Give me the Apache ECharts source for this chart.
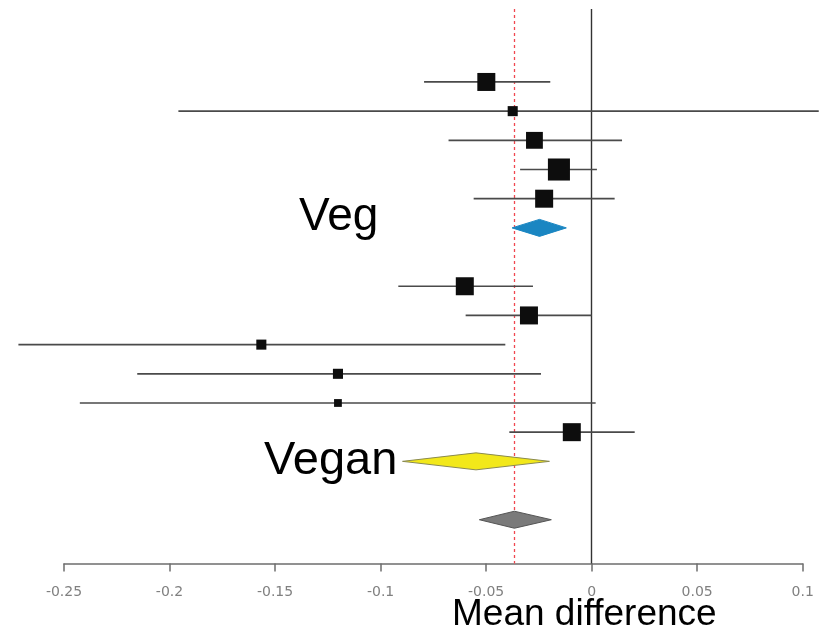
<!DOCTYPE html>
<html>
<head>
<meta charset="utf-8">
<script src="https://cdn.jsdelivr.net/npm/echarts@6/dist/echarts.min.js"></script>
<style>
  html, body { margin: 0; padding: 0; background: #fff; }
  #chart { width: 833px; height: 632px; }
</style>
</head>
<body>
<div id="chart"></div>
<script>
// Study rows (row index counted from the top of the plot)
const studyRows    = [1, 2, 3, 4, 5, 8, 9, 10, 11, 12, 13];
const studyEst     = [-0.0499, -0.0374, -0.0271, -0.0155, -0.0225, -0.0601, -0.0297, -0.1565, -0.1202, -0.1202, -0.0094];
const studyLower   = [-0.0794, -0.1958, -0.0678, -0.0339, -0.0559, -0.0916, -0.0597, -0.2716, -0.2153, -0.2425, -0.0390];
const studyUpper   = [-0.0196,  0.1076,  0.0144,  0.0025,  0.0109, -0.0278,  0.0000, -0.0409, -0.0240,  0.0019,  0.0204];
const studyWeights = [16, 5, 14, 24, 16, 16, 16, 5, 5, 3, 16];

// Pooled estimates: Veg subgroup, Vegan subgroup, overall
const pooledNames = ['Veg', 'Vegan', 'Overall'];
const pooledRows  = [6, 14, 16];
const pooledEst   = [-0.0247, -0.0548, -0.0366];
const pooledLower = [-0.0377, -0.0896, -0.0532];
const pooledUpper = [-0.0120, -0.0200, -0.0191];

// Axis ticks
const xTicks = [-0.25, -0.2, -0.15, -0.1, -0.05, 0, 0.05, 0.1];

const diamondFill   = ['#1a86c2', '#f2e81a', '#7a7a7a'];
const diamondStroke = ['#1a86c2', '#8a8a50', '#555555'];

const chart = echarts.init(document.getElementById('chart'));

const studyData = studyRows.map((r, i) => [studyEst[i], studyLower[i], studyUpper[i], r, studyWeights[i]]);
const pooledData = pooledRows.map((r, i) => [pooledEst[i], pooledLower[i], pooledUpper[i], r, i]);
const overallEst = pooledEst[pooledNames.indexOf('Overall')];

chart.setOption({
  animation: false,
  backgroundColor: '#ffffff',
  grid: { left: 64, right: 30.3, top: 9, bottom: 68.5, containLabel: false },
  xAxis: {
    type: 'value',
    min: xTicks[0],
    max: xTicks[xTicks.length - 1],
    interval: 0.05,
    axisLine: { show: true, onZero: false, lineStyle: { color: '#6e6e6e', width: 1.5 } },
    axisTick: { show: true, length: 8, lineStyle: { color: '#6e6e6e', width: 1.5 } },
    axisLabel: {
      show: true, margin: 22, color: '#808080', fontSize: 14,
      fontFamily: 'DejaVu Sans',
      formatter: v => String(Math.round(v * 100) / 100)
    },
    splitLine: { show: false }
  },
  yAxis: {
    type: 'value', inverse: true, min: -1.5, max: 17.5,
    show: false
  },
  series: [
    {
      // reference lines: no effect and pooled overall estimate, drawn beneath the marks
      type: 'line',
      name: 'reference',
      z: 1,
      data: [],
      markLine: {
        silent: true,
        z: 1,
        symbol: 'none',
        precision: 4,
        label: { show: false },
        data: [
          { xAxis: 0, lineStyle: { color: '#333333', width: 1.4, type: 'solid' } },
          { xAxis: overallEst, lineStyle: { color: '#f0474f', width: 1.3, type: [3, 3] } }
        ]
      }
    },
    {
      type: 'custom',
      name: 'studies',
      z: 3,
      clip: false,
      data: studyData,
      renderItem: function (params, api) {
        const est = api.value(0), lo = api.value(1), hi = api.value(2), row = api.value(3), w = api.value(4);
        const pLo = api.coord([lo, row]);
        const pHi = api.coord([hi, row]);
        const pE = api.coord([est, row]);
        const side = 4.5 * Math.sqrt(w);
        return {
          type: 'group',
          children: [
            { type: 'line', shape: { x1: pLo[0], y1: pLo[1], x2: pHi[0], y2: pHi[1] },
              style: { stroke: '#4a4a4a', lineWidth: 1.7 } },
            { type: 'rect', shape: { x: pE[0] - side / 2, y: pE[1] - side / 2, width: side, height: side },
              style: { fill: '#0d0d0d' } }
          ]
        };
      }
    },
    {
      type: 'custom',
      name: 'pooled',
      z: 3,
      clip: false,
      data: pooledData,
      renderItem: function (params, api) {
        const est = api.value(0), lo = api.value(1), hi = api.value(2), row = api.value(3), k = api.value(4);
        const pLo = api.coord([lo, row]);
        const pHi = api.coord([hi, row]);
        const pE = api.coord([est, row]);
        const h = 8.5;
        return {
          type: 'polygon',
          shape: { points: [[pLo[0], pLo[1]], [pE[0], pE[1] - h], [pHi[0], pHi[1]], [pE[0], pE[1] + h]] },
          style: { fill: diamondFill[k], stroke: diamondStroke[k], lineWidth: 1 }
        };
      }
    }
  ],
  graphic: [
    { type: 'text', x: 299, y: 217,
      style: { text: 'Veg', font: '46px "Liberation Sans", Arial, sans-serif', fill: '#000', verticalAlign: 'middle', align: 'left' } },
    { type: 'text', x: 264, y: 461,
      style: { text: 'Vegan', font: '47px "Liberation Sans", Arial, sans-serif', fill: '#000', verticalAlign: 'middle', align: 'left' } },
    { type: 'text', x: 452, y: 615,
      style: { text: 'Mean difference', font: '37px "Liberation Sans", Arial, sans-serif', fill: '#000', verticalAlign: 'middle', align: 'left' } }
  ]
});
</script>
</body>
</html>
